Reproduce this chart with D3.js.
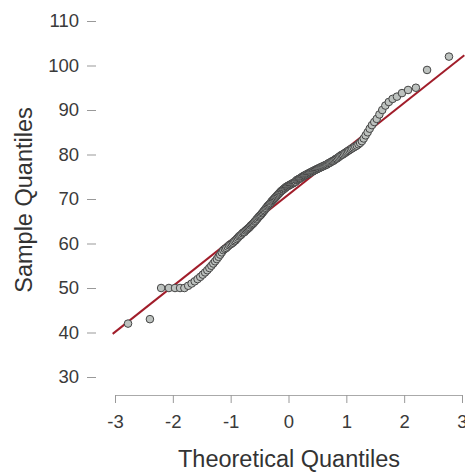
<!DOCTYPE html>
<html>
<head>
<meta charset="utf-8">
<script src="https://cdn.jsdelivr.net/npm/d3@7"></script>
<style>
  body { margin: 0; background: #fff; }
  svg { display: block; font-family: "Liberation Sans", Arial, sans-serif; }
</style>
</head>
<body>
<div id="chart"></div>
<script>
// sample values, sorted, n = 180
var sampleValues = [
  42, 43, 50, 50, 50, 50, 50, 50.5, 51, 51.5,
  52, 52.5, 53, 53.5, 54, 54.5, 55, 55.5, 56, 56.5,
  57, 57.5, 58, 58.5, 58.8, 59, 59.3, 59.6, 59.8, 60,
  60.2, 60.5, 60.7, 61, 61.3, 61.6, 61.8, 62, 62.3, 62.5,
  62.6, 62.9, 63.1, 63.3, 63.5, 63.7, 64, 64.2, 64.4, 64.6,
  64.9, 65.1, 65.4, 65.6, 65.9, 66.1, 66.3, 66.5, 66.8, 67,
  67.3, 67.5, 67.8, 68, 68.3, 68.5, 68.7, 68.9, 69.1, 69.4,
  69.6, 69.8, 70, 70.2, 70.4, 70.6, 70.8, 71, 71.2, 71.4,
  71.6, 71.8, 71.9, 72.1, 72.2, 72.4, 72.5, 72.7, 72.8, 72.9,
  73, 73.1, 73.2, 73.3, 73.4, 73.5, 73.6, 73.7, 73.8, 73.9,
  74.2, 74.3, 74.4, 74.5, 74.6, 74.7, 74.8, 75, 75.1, 75.2,
  75.3, 75.4, 75.5, 75.6, 75.7, 75.8, 75.9, 76, 76.1, 76.2,
  76.3, 76.4, 76.5, 76.6, 76.7, 76.8, 76.9, 77, 77.1, 77.2,
  77.3, 77.4, 77.5, 77.6, 77.7, 77.8, 78, 78.1, 78.2, 78.4,
  78.5, 78.6, 78.8, 79, 79.1, 79.3, 79.5, 79.7, 79.9, 80,
  80.2, 80.4, 80.6, 80.8, 81, 81.2, 81.4, 81.6, 81.8, 82,
  82.3, 82.6, 83, 83.6, 84.3, 85, 85.8, 86.6, 87.3, 88,
  89, 90, 91, 91.8, 92.5, 93, 93.8, 94.5, 95, 99,
  102
];

var xTicks = [-3, -2, -1, 0, 1, 2, 3];
var yTicks = [30, 40, 50, 60, 70, 80, 90, 100, 110];

// reference line (through the quartiles)
var lineIntercept = 71;
var lineSlope = 10.3;

var width = 465, height = 473;

var svg = d3.select('#chart')
  .append('svg')
  .attr('width', width)
  .attr('height', height);

var x = d3.scaleLinear().domain([-3, 3]).range([115, 462]);
var y = d3.scaleLinear().domain([30, 110]).range([377, 21]);

// normal quantile function (Acklam's approximation)
function qnorm(p) {
  var a = [-3.969683028665376e+01, 2.209460984245205e+02, -2.759285104469687e+02, 1.383577518672690e+02, -3.066479806614716e+01, 2.506628277459239e+00];
  var b = [-5.447609879822406e+01, 1.615858368580409e+02, -1.556989798598866e+02, 6.680131188771972e+01, -1.328068155288572e+01];
  var c = [-7.784894002430293e-03, -3.223964580411365e-01, -2.400758277161838e+00, -2.549732539343734e+00, 4.374664141464968e+00, 2.938163982698783e+00];
  var d = [7.784695709041462e-03, 3.224671290700398e-01, 2.445134137142996e+00, 3.754408661907416e+00];
  var q, r;
  if (p < 0.02425) {
    q = Math.sqrt(-2 * Math.log(p));
    return (((((c[0]*q+c[1])*q+c[2])*q+c[3])*q+c[4])*q+c[5]) / ((((d[0]*q+d[1])*q+d[2])*q+d[3])*q+1);
  } else if (p > 1 - 0.02425) {
    q = Math.sqrt(-2 * Math.log(1 - p));
    return -(((((c[0]*q+c[1])*q+c[2])*q+c[3])*q+c[4])*q+c[5]) / ((((d[0]*q+d[1])*q+d[2])*q+d[3])*q+1);
  }
  q = p - 0.5; r = q * q;
  return (((((a[0]*r+a[1])*r+a[2])*r+a[3])*r+a[4])*r+a[5])*q / (((((b[0]*r+b[1])*r+b[2])*r+b[3])*r+b[4])*r+1);
}

var n = sampleValues.length;
var points = sampleValues.map(function(v, i) {
  return { tq: qnorm((i + 1 - 0.5) / n), sq: v };
});

// plain hyphen minus like the original
var fmt = d => String(d);

// y axis: ticks only, no line
var yAxis = svg.append('g')
  .attr('transform', 'translate(96,0)')
  .call(d3.axisLeft(y).tickValues(yTicks).tickSize(9).tickPadding(8).tickFormat(fmt));
yAxis.select('.domain').remove();
yAxis.selectAll('line').attr('stroke', '#999');
yAxis.selectAll('text')
  .attr('fill', '#3a3a3a')
  .style('font-size', '18.5px')
  .style('font-family', '"Liberation Sans", Arial, sans-serif');

// x axis
var xAxis = svg.append('g')
  .attr('transform', 'translate(0,395)')
  .call(d3.axisBottom(x).tickValues(xTicks).tickSizeInner(8).tickSizeOuter(0).tickPadding(12).tickFormat(fmt));
xAxis.select('.domain').attr('stroke', '#aaa');
xAxis.selectAll('line').attr('stroke', '#999');
xAxis.selectAll('text')
  .attr('fill', '#3a3a3a')
  .style('font-size', '18.5px')
  .style('font-family', '"Liberation Sans", Arial, sans-serif');

// reference line
svg.append('line')
  .attr('x1', x(-3.04))
  .attr('y1', y(lineIntercept + lineSlope * -3.04))
  .attr('x2', x(3.04))
  .attr('y2', y(lineIntercept + lineSlope * 3.04))
  .attr('stroke', '#a11d2a')
  .attr('stroke-width', 2);

// points
svg.append('g')
  .selectAll('circle')
  .data(points)
  .enter().append('circle')
  .attr('cx', d => x(d.tq))
  .attr('cy', d => y(d.sq))
  .attr('r', 3.8)
  .attr('fill', '#bdc2bf')
  .attr('stroke', '#444')
  .attr('stroke-width', 1);

// axis titles
svg.append('text')
  .attr('x', 289)
  .attr('y', 467)
  .attr('text-anchor', 'middle')
  .attr('fill', '#333')
  .style('font-size', '23.5px')
  .text('Theoretical Quantiles');

svg.append('text')
  .attr('transform', 'rotate(-90)')
  .attr('x', -200)
  .attr('y', 32)
  .attr('text-anchor', 'middle')
  .attr('fill', '#333')
  .style('font-size', '23.5px')
  .text('Sample Quantiles');
</script>
</body>
</html>
